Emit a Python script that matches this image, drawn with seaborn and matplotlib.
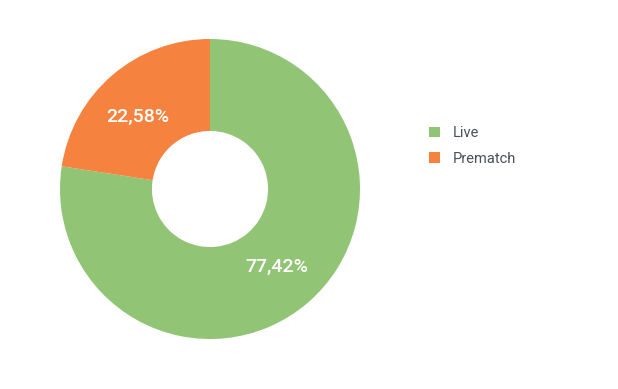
import numpy as np
import seaborn as sns
import matplotlib.pyplot as plt
from matplotlib.patches import Patch

categories = ["Live", "Prematch"]
shares = [77.42, 22.58]
slice_labels = ["77,42%", "22,58%"]
colors = ["#91c475", "#f5823f"]

sns.set_theme(style="white")
plt.rcParams["font.family"] = ["Roboto", "DejaVu Sans"]

fig = plt.figure(figsize=(6.18, 3.89), dpi=100)
ax = fig.add_axes([60 / 618, 50 / 389, 300 / 618, 300 / 389])

wedges, texts = ax.pie(
    shares, colors=colors, startangle=90, counterclock=False,
    radius=1, wedgeprops=dict(width=0.613, linewidth=0),
)
# percent labels inside the ring (small nudge on the angle for the small slice)
nudge = [0, 4.5]
for w, lab, dn in zip(wedges, slice_labels, nudge):
    mid = np.deg2rad((w.theta1 + w.theta2) / 2 + dn)
    ax.text(0.68 * np.cos(mid), 0.68 * np.sin(mid), lab, ha="center", va="center",
            color="white", fontsize=14, fontweight="medium")
ax.set_xlim(-1, 1)
ax.set_ylim(-1, 1)
ax.set_aspect("equal")
ax.axis("off")

handles = [Patch(facecolor=c, edgecolor="none") for c in colors]
fig.legend(handles, categories, loc="upper left", bbox_to_anchor=(416 / 618, 1 - 113 / 389),
           frameon=False, fontsize=10.5, handlelength=0.75, handleheight=0.75,
           handletextpad=0.9, labelspacing=0.8, labelcolor="#4a5058")

fig.savefig("out.png", dpi=100)
